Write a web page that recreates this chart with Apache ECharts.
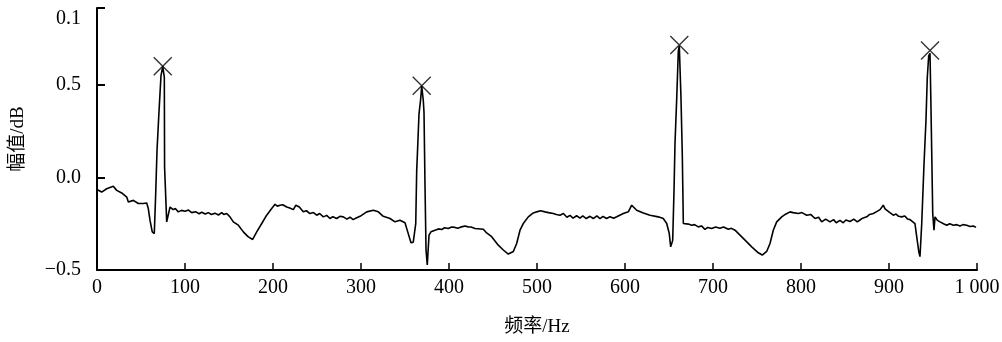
<!DOCTYPE html>
<html>
<head>
<meta charset="utf-8">
<script src="https://cdn.jsdelivr.net/npm/echarts@6/dist/echarts.min.js"></script>
<style>
html,body{margin:0;padding:0;background:#fff;}
#chart{width:1002px;height:342px;}
</style>
</head>
<body>
<div id="chart"></div>
<script>
// Spectrum: [frequency Hz, amplitude dB]
const spectrumPoints = [
[0,-0.065],[5.3,-0.079],[11.0,-0.061],[18.5,-0.048],[22.4,-0.07],[28.1,-0.084],[33.8,-0.106],[35.6,-0.133],[41.3,-0.124],[46.9,-0.141],[52.6,-0.141],[56.5,-0.138],[58.3,-0.168],[60.2,-0.231],[62.8,-0.294],[65.1,-0.303],[66.7,-0.088],[68.2,0.145],[70.5,0.36],[72.7,0.548],[74.7,0.60],[76.5,0.54],[76.8,0.055],[78.4,0.047],[79.2,-0.24],[81.0,-0.249],[83.0,-0.16],
[86.7,-0.174],[89,-0.168],[92.4,-0.186],[96,-0.178],[100,-0.183],[104,-0.176],[107.6,-0.19],[112,-0.185],[116,-0.196],[119,-0.188],[123,-0.198],[126.5,-0.19],[130,-0.2],[134.1,-0.193],[138,-0.203],[141.7,-0.19],[144,-0.2],[147.4,-0.195],
[151.1,-0.213],[154.9,-0.24],[160.6,-0.258],[166.3,-0.294],[171.6,-0.32],[176.9,-0.335],[181.5,-0.294],[187.2,-0.249],[192.8,-0.204],[198.5,-0.168],
[202.3,-0.145],[205,-0.155],[208,-0.15],[211,-0.148],[215.6,-0.16],[219,-0.165],[223.1,-0.174],[226,-0.15],[229.9,-0.16],[234.4,-0.186],[238,-0.18],[242,-0.195],[246,-0.19],[249.7,-0.204],[253,-0.195],[257.2,-0.213],[261,-0.205],[264.8,-0.222],[268,-0.212],[272.4,-0.222],[276,-0.21],[279.9,-0.213],[284,-0.225],[287.5,-0.215],[291,-0.228],[295.1,-0.218],
[298.9,-0.21],[306.5,-0.186],[314.0,-0.177],[319.7,-0.186],[325.3,-0.21],[333.0,-0.222],[338.6,-0.24],[344.3,-0.231],[350.0,-0.245],[353.1,-0.294],[356.8,-0.353],[359.4,-0.35],[362.2,-0.249],[363.3,0.038],[364.4,0.163],[365.9,0.342],[367.8,0.423],[369.0,0.495],[370.8,0.414],[371.6,0.351],[372.7,-0.034],[373.9,-0.392],[375.3,-0.473],[377.3,-0.312],[379.5,-0.294],
[384.1,-0.285],[388,-0.278],[391.7,-0.281],[395,-0.272],[399.2,-0.276],[403,-0.268],[406.8,-0.27],[410,-0.275],[414.4,-0.267],[418,-0.262],[421.9,-0.267],[425,-0.268],[429.5,-0.276],
[439.0,-0.28],[442.8,-0.3],[448.5,-0.32],[456.0,-0.366],[461.7,-0.392],[467.4,-0.414],[473.1,-0.4],[476.9,-0.357],[480.7,-0.285],[484.4,-0.249],[490.1,-0.213],[495.8,-0.192],
[499.7,-0.186],[504,-0.18],[509.1,-0.186],[513,-0.19],[518.5,-0.195],[522,-0.2],[526.1,-0.204],[530,-0.195],[534,-0.215],[537.5,-0.205],[541,-0.22],[545,-0.207],[548.9,-0.22],[552,-0.208],[556,-0.222],[560.2,-0.21],[564,-0.222],[568,-0.208],[571.6,-0.222],[575,-0.21],[579,-0.222],[583,-0.212],[587,-0.22],[590.6,-0.212],
[598.1,-0.195],[603.8,-0.186],[607.6,-0.15],[613.3,-0.177],[620.8,-0.192],[628.4,-0.204],[637.8,-0.213],[643.5,-0.222],[647.4,-0.249],[650.3,-0.303],[651.9,-0.375],[654.2,-0.34],[655.7,-0.07],[656.8,0.18],[658.8,0.432],[660.6,0.683],[661.7,0.71],[663.6,0.432],[665.1,0.127],[666.3,-0.249],
[668.2,-0.249],[672,-0.252],[675.8,-0.258],[679,-0.255],[683.3,-0.267],[687,-0.262],[690.9,-0.281],[694,-0.27],[698.5,-0.276],[703,-0.268],[707.9,-0.275],[712,-0.268],[717.4,-0.28],[721,-0.275],[725,-0.285],
[730.7,-0.312],[736.4,-0.339],[744.0,-0.375],[751.5,-0.407],[756.0,-0.419],[761.0,-0.40],[764.8,-0.357],[768.5,-0.285],[772.4,-0.24],
[778.1,-0.213],[782,-0.2],[787.5,-0.186],[791,-0.19],[797,-0.195],[801,-0.19],[806.5,-0.204],[811,-0.2],[815.9,-0.222],[820,-0.215],[823.5,-0.24],[828,-0.225],[833,-0.24],[837,-0.228],[840,-0.245],[844.3,-0.232],[848,-0.245],[851,-0.23],[855.7,-0.238],[860,-0.225],[864,-0.24],[867,-0.23],[870,-0.22],[874.7,-0.213],[878,-0.2],[882.2,-0.195],[886,-0.185],[889.8,-0.174],[893.5,-0.15],[895.5,-0.17],[897.4,-0.177],[901,-0.19],[904.9,-0.204],[908,-0.198],[911,-0.21],[914.4,-0.213],[918,-0.208],[921,-0.225],[923.9,-0.228],
[929.5,-0.249],[931.5,-0.32],[933.8,-0.40],[935.2,-0.428],[937.2,-0.249],[939.8,0.074],[942.0,0.306],[943.5,0.54],[945.1,0.656],[946.6,0.67],[947.7,0.378],[949.7,-0.195],[951.1,-0.285],
[952.3,-0.213],[955,-0.232],[958,-0.24],[962,-0.25],[965.6,-0.258],[969,-0.25],[973.1,-0.258],[977,-0.255],[980.7,-0.262],[984,-0.255],[988.3,-0.258],[992,-0.265],[995.8,-0.262],[998.9,-0.27]
];
const peakHz = [74.7, 369.0, 661.7, 946.6];
const peakDb = [0.60, 0.495, 0.715, 0.685];
const xTickLabels = {0:'0',100:'100',200:'200',300:'300',400:'400',500:'500',600:'600',700:'700',800:'800',900:'900',1000:'1 000'};
const yTopValue = 0.915;
const yTickLabels = {'-0.5':'\u22120.5','0':'0.0','0.5':'0.5','top':'0.1'};

const FONT = '"Liberation Serif","Noto Sans CJK SC",serif';
const chart = echarts.init(document.getElementById('chart'));
chart.setOption({
  animation: false,
  backgroundColor: '#fff',
  grid: {left: 97, right: 25, top: 8, bottom: 72, containLabel: false, outerBoundsMode: 'none'},
  xAxis: {
    type: 'value', min: 0, max: 1000, interval: 100,
    name: '频率/Hz', nameLocation: 'middle', nameGap: 48,
    nameTextStyle: {fontFamily: FONT, fontSize: 19, color: '#000'},
    axisLine: {show: true, onZero: false, lineStyle: {color: '#000', width: 2}},
    axisTick: {show: true, inside: true, length: 7, lineStyle: {color: '#000', width: 1.5}},
    axisLabel: {fontFamily: FONT, fontSize: 20, color: '#000', margin: 8,
      formatter: v => xTickLabels[v] !== undefined ? xTickLabels[v] : ''},
    splitLine: {show: false}
  },
  yAxis: {
    type: 'value', min: -0.5, max: yTopValue, interval: 0.5,
    name: '幅值/dB', nameLocation: 'middle', nameGap: 69, nameRotate: 90,
    nameTextStyle: {fontFamily: FONT, fontSize: 19, color: '#000'},
    axisLine: {show: true, onZero: false, lineStyle: {color: '#000', width: 2}},
    axisTick: {show: true, inside: true, length: 8, lineStyle: {color: '#000', width: 2}},
    axisLabel: {fontFamily: FONT, fontSize: 20, color: '#000', margin: 16, showMaxLabel: true, showMinLabel: true,
      rich: {top: {fontFamily: FONT, fontSize: 20, color: '#000', padding: [22, 0, 0, 0]}},
      formatter: v => {
        if (v > 0.8) return '{top|' + yTickLabels.top + '}';
        const k = String(Math.round(v * 10) / 10);
        return yTickLabels[k] !== undefined ? yTickLabels[k] : '';
      }},
    splitLine: {show: false}
  },
  series: [
    {
      type: 'line',
      data: spectrumPoints,
      showSymbol: false,
      lineStyle: {color: '#000', width: 1.6},
      z: 2
    },
    {
      type: 'scatter',
      data: peakHz.map((f, i) => [f, peakDb[i]]),
      symbol: 'path://M0,0L10,10M10,0L0,10',
      symbolSize: 18,
      itemStyle: {color: 'none', borderColor: '#000', borderWidth: 1.4},
      z: 3
    }
  ]
});
</script>
</body>
</html>
